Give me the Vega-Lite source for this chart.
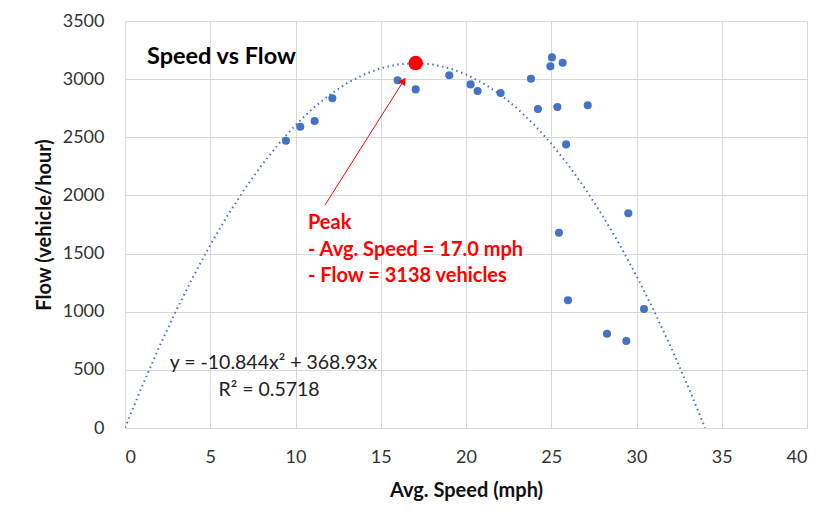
{
  "$schema": "https://vega.github.io/schema/vega-lite/v6.json",
  "autosize": {"type": "none"},
  "padding": {"left": 125, "top": 21, "right": 16, "bottom": 89},
  "width": 682,
  "height": 407,
  "background": "white",
  "config": {
    "view": {"stroke": null},
    "font": "Lato",
    "axis": {
      "ticks": false,
      "domain": false,
      "gridColor": "#d9d9d9",
      "gridWidth": 1,
      "labelFont": "Lato",
      "labelFontSize": 18,
      "labelColor": "#333333",
      "titleFont": "Lato",
      "titleFontSize": 20,
      "titleFontWeight": "bold",
      "titleColor": "#111111"
    }
  },
  "datasets": {
    "obs": [
      {"speed": 9.44, "flow": 2470},
      {"speed": 10.28, "flow": 2591},
      {"speed": 11.12, "flow": 2640},
      {"speed": 12.16, "flow": 2835},
      {"speed": 15.99, "flow": 2990},
      {"speed": 17.05, "flow": 2912},
      {"speed": 19.02, "flow": 3033},
      {"speed": 20.27, "flow": 2955},
      {"speed": 20.68, "flow": 2898},
      {"speed": 22.03, "flow": 2880},
      {"speed": 23.81, "flow": 3003},
      {"speed": 24.22, "flow": 2743},
      {"speed": 25.04, "flow": 3187},
      {"speed": 24.95, "flow": 3110},
      {"speed": 25.67, "flow": 3141},
      {"speed": 25.36, "flow": 2760},
      {"speed": 27.14, "flow": 2775},
      {"speed": 25.87, "flow": 2439},
      {"speed": 29.52, "flow": 1846},
      {"speed": 25.45, "flow": 1679},
      {"speed": 25.98, "flow": 1098},
      {"speed": 30.44, "flow": 1023},
      {"speed": 28.27, "flow": 811},
      {"speed": 29.4, "flow": 748}
    ],
    "trend": [
      {"speed": 0, "flow": 0},
      {"speed": 1, "flow": 358.09},
      {"speed": 2, "flow": 694.48},
      {"speed": 3, "flow": 1009.19},
      {"speed": 4, "flow": 1302.22},
      {"speed": 5, "flow": 1573.55},
      {"speed": 6, "flow": 1823.2},
      {"speed": 7, "flow": 2051.15},
      {"speed": 8, "flow": 2257.42},
      {"speed": 9, "flow": 2442.01},
      {"speed": 10, "flow": 2604.9},
      {"speed": 11, "flow": 2746.11},
      {"speed": 12, "flow": 2865.62},
      {"speed": 13, "flow": 2963.45},
      {"speed": 14, "flow": 3039.6},
      {"speed": 15, "flow": 3094.05},
      {"speed": 16, "flow": 3126.82},
      {"speed": 17, "flow": 3137.89},
      {"speed": 18, "flow": 3127.28},
      {"speed": 19, "flow": 3094.99},
      {"speed": 20, "flow": 3041.0},
      {"speed": 21, "flow": 2965.33},
      {"speed": 22, "flow": 2867.96},
      {"speed": 23, "flow": 2748.91},
      {"speed": 24, "flow": 2608.18},
      {"speed": 25, "flow": 2445.75},
      {"speed": 26, "flow": 2261.64},
      {"speed": 27, "flow": 2055.83},
      {"speed": 28, "flow": 1828.34},
      {"speed": 29, "flow": 1579.17},
      {"speed": 30, "flow": 1308.3},
      {"speed": 31, "flow": 1015.75},
      {"speed": 32, "flow": 701.5},
      {"speed": 33, "flow": 365.57},
      {"speed": 34, "flow": 7.96},
      {"speed": 34.02, "flow": 0}
    ]
  },
  "layer": [
    {
      "data": {"name": "trend"},
      "mark": {"type": "line", "color": "#4472C4", "strokeWidth": 2, "strokeDash": [1.5, 3.5], "clip": true},
      "encoding": {
        "x": {
          "field": "speed", "type": "quantitative",
          "scale": {"domain": [0, 40], "nice": false},
          "axis": {"values": [0, 5, 10, 15, 20, 25, 30, 35, 40], "format": "d", "labelPadding": 20, "title": "Avg. Speed (mph)", "titlePadding": 14}
        },
        "y": {
          "field": "flow", "type": "quantitative",
          "scale": {"domain": [0, 3500], "nice": false},
          "axis": {"values": [0, 500, 1000, 1500, 2000, 2500, 3000, 3500], "format": "d", "labelPadding": 21, "title": "Flow (vehicle/hour)", "titlePadding": 8}
        }
      }
    },
    {
      "data": {"name": "obs"},
      "mark": {"type": "point", "filled": true, "color": "#4472C4", "opacity": 1, "size": 65},
      "encoding": {
        "x": {"field": "speed", "type": "quantitative"},
        "y": {"field": "flow", "type": "quantitative"}
      }
    },
    {
      "data": {"values": [{"speed": 17.05, "flow": 3138}]},
      "mark": {"type": "point", "filled": true, "color": "#FF0000", "opacity": 1, "size": 210},
      "encoding": {
        "x": {"field": "speed", "type": "quantitative"},
        "y": {"field": "flow", "type": "quantitative"}
      }
    },
    {
      "data": {"values": [{"speed": 11.73, "flow": 1917, "speed2": 16.4, "flow2": 3000}]},
      "mark": {"type": "rule", "color": "#FF0000", "strokeWidth": 1},
      "encoding": {
        "x": {"field": "speed", "type": "quantitative"},
        "y": {"field": "flow", "type": "quantitative"},
        "x2": {"field": "speed2"},
        "y2": {"field": "flow2"}
      }
    },
    {
      "data": {"values": [{"speed": 16.34, "flow": 2986}]},
      "mark": {"type": "point", "shape": "triangle-up", "filled": true, "color": "#FF0000", "opacity": 1, "size": 70, "angle": 32},
      "encoding": {
        "x": {"field": "speed", "type": "quantitative"},
        "y": {"field": "flow", "type": "quantitative"}
      }
    },
    {
      "data": {"values": [{"speed": 1.29, "flow": 3190, "label": "Speed vs Flow"}]},
      "mark": {"type": "text", "align": "left", "baseline": "middle", "fontSize": 23.5, "fontWeight": "bold", "color": "#000000", "font": "Lato"},
      "encoding": {
        "x": {"field": "speed", "type": "quantitative"},
        "y": {"field": "flow", "type": "quantitative"},
        "text": {"field": "label"}
      }
    },
    {
      "data": {"values": [
        {"speed": 10.73, "flow": 1763, "label": "Peak"},
        {"speed": 10.73, "flow": 1531, "label": "- Avg. Speed = 17.0 mph"},
        {"speed": 10.73, "flow": 1307, "label": "- Flow = 3138 vehicles"}
      ]},
      "mark": {"type": "text", "align": "left", "baseline": "middle", "fontSize": 20, "fontWeight": "bold", "color": "#FF0000", "font": "Lato"},
      "encoding": {
        "x": {"field": "speed", "type": "quantitative"},
        "y": {"field": "flow", "type": "quantitative"},
        "text": {"field": "label"}
      }
    },
    {
      "data": {"values": [
        {"speed": 8.71, "flow": 559, "label": "y = -10.844x² + 368.93x"},
        {"speed": 8.45, "flow": 327, "label": "R² = 0.5718"}
      ]},
      "mark": {"type": "text", "align": "center", "baseline": "middle", "fontSize": 19.5, "color": "#222222", "font": "Lato"},
      "encoding": {
        "x": {"field": "speed", "type": "quantitative"},
        "y": {"field": "flow", "type": "quantitative"},
        "text": {"field": "label"}
      }
    }
  ]
}
